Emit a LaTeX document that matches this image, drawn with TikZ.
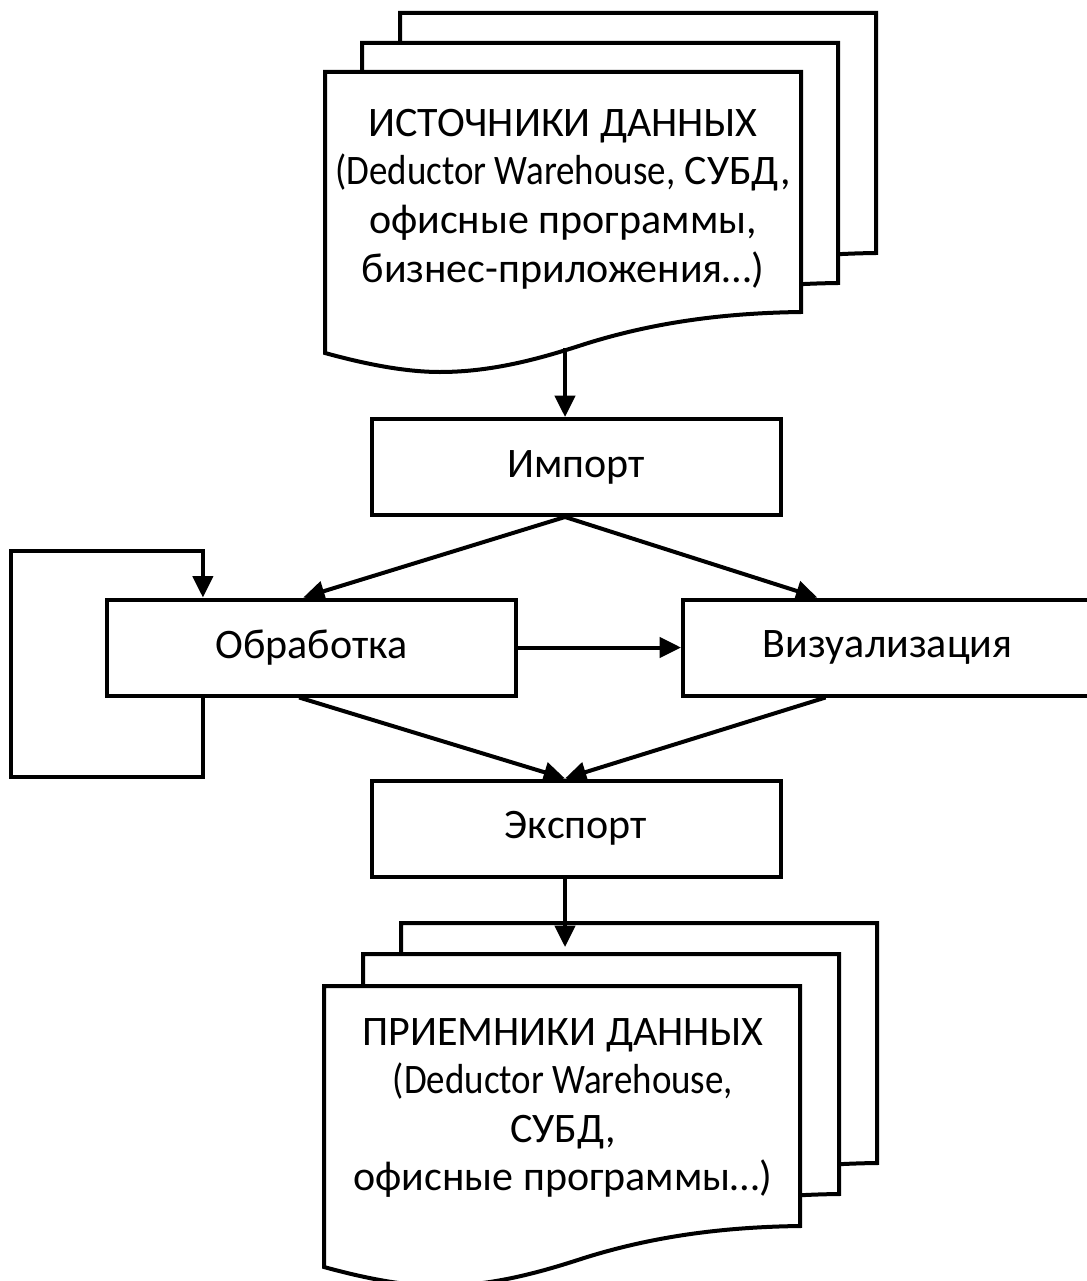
\documentclass[tikz,border=0pt]{standalone}
\usepackage{fontspec}
\usepackage{graphicx}
\setmainfont{Carlito}
\usetikzlibrary{arrows.meta,calc}

\tikzset{every picture/.style={line width=3pt}}
\tikzset{
  procbox/.style={draw, minimum width=306.75pt, minimum height=72pt, inner sep=0pt, font=\fontsize{31.5}{36.4}\selectfont},
  doctext/.style={align=center, inner sep=0pt, font=\fontsize{31.5}{36.4}\selectfont},
  flow/.style={-{Triangle[length=16pt,width=15pt]}},
  sheetstyle/.style={draw, fill=white, line join=miter}
}
% latin words are set a bit narrower
\newcommand{\latin}[1]{\scalebox{0.88}[1]{#1}}
% one page of a document stack, #1,#2 = top left corner
\newcommand{\sheet}[2]{%
  \draw[sheetstyle, shift={(#1,#2)}] (0,0) -- (476,0) -- (476,240) .. controls (400,241) and (330,250) .. (260,272) .. controls (220,285) and (170,300) .. (115,300) .. controls (80,300) and (40,292) .. (0,281) -- cycle;}

\begin{document}
\begin{tikzpicture}[x=0.75pt,y=0.75pt,yscale=-1]
\useasboundingbox (0,0) rectangle (1087,1281);

%Shape: Document stack
\sheet{400}{13}
\sheet{362}{43}
\sheet{325}{72}
% Text Node
\node[doctext] (src) at (563,199) {ИСТОЧНИКИ ДАННЫХ\\\latin{(Deductor Warehouse,} СУБД,\\офисные программы,\\бизнес-приложения…)};

%Shape: Rectangle
\node[procbox] (imp) at (576,467) {Импорт};
%Shape: Rectangle
\node[procbox] (proc) at (311.5,647.5) {Обработка};
%Shape: Rectangle
\node[procbox] (vis) at (887.5,647.5) {Визуализация};
%Shape: Rectangle
\node[procbox] (exp) at (576,828.5) {Экспорт};

%Shape: Document stack
\sheet{401}{923}
\sheet{363}{954}
\sheet{324}{986}
% Text Node
\node[doctext] (dst) at (563,1108) {ПРИЕМНИКИ ДАННЫХ\\\latin{(Deductor Warehouse,}\\СУБД,\\офисные программы…)};

\coordinate (srcout) at (565,348);
\coordinate (dstin) at (565,947);
\coordinate (loopout) at ($(proc.south west)!0.237!(proc.south east)$);

%Straight Lines
\draw[flow] (srcout) -- (srcout |- imp.north);
\draw[flow] (srcout |- imp.south) -- ($(proc.north west)!0.48!(proc.north east)$);
\draw[flow] (srcout |- imp.south) -- ($(vis.north west)!0.33!(vis.north east)$);
\draw[flow] (proc.east) -- (vis.west);
\draw[flow] ($(proc.south west)!0.47!(proc.south east)$) -- (srcout |- exp.north);
\draw[flow] ($(vis.south west)!0.35!(vis.south east)$) -- (srcout |- exp.north);
\draw[flow] (srcout |- exp.south) -- (dstin);
%Loop
\draw[flow] (loopout) -- ++(0,79) -- ++(-192,0) -- ++(0,-226) -- ++(192,0) -- (loopout |- proc.north);

\end{tikzpicture}
\end{document}
